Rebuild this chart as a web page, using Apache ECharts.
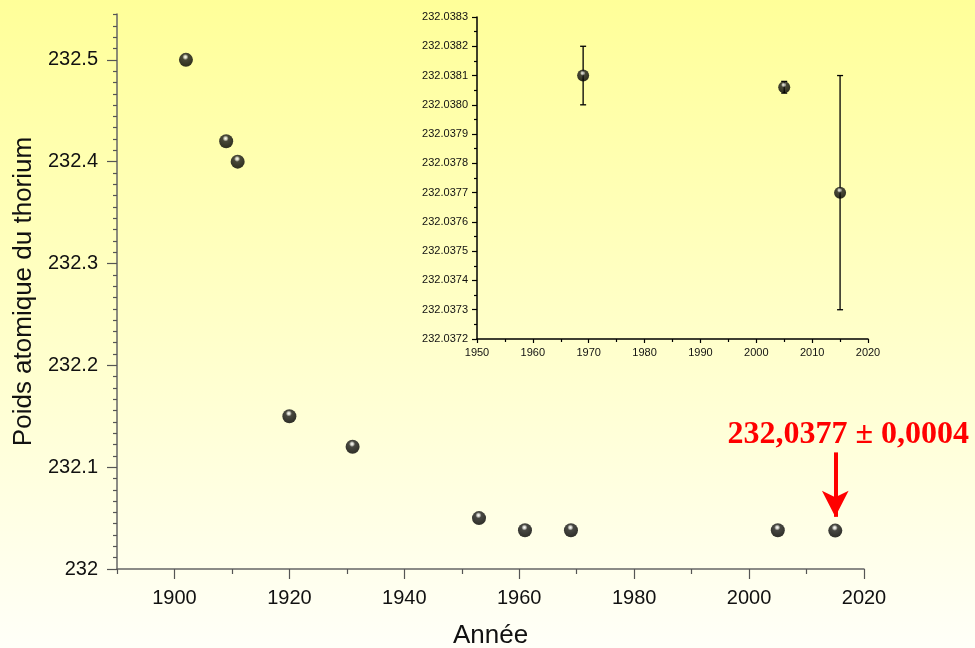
<!DOCTYPE html>
<html>
<head>
<meta charset="utf-8">
<script src="https://cdn.jsdelivr.net/npm/echarts@6/dist/echarts.min.js"></script>
<style>html,body{margin:0;padding:0;}#c{width:975px;height:648px;}</style>
</head>
<body>
<div id="c"></div>
<script>
// Main chart data
const mainYears = [1902, 1909, 1911, 1920, 1931, 1953, 1961, 1969, 2005, 2015];
const mainWeights = [232.5, 232.42, 232.40, 232.15, 232.12, 232.05, 232.038, 232.038, 232.038, 232.0377];
const mainXTicks = [1900, 1920, 1940, 1960, 1980, 2000, 2020];
const mainXMinorTicks = [1890, 1910, 1930, 1950, 1970, 1990, 2010];
const mainYTicks = [232, 232.1, 232.2, 232.3, 232.4, 232.5];
// Inset data
const insetYears = [1969, 2005, 2015];
const insetWeights = [232.0381, 232.03806, 232.0377];
const insetErrors = [0.0001, 0.00002, 0.0004];
// Annotation
const annotYear = 2015;
const annotText = '232,0377 ± 0,0004';
const arrowFrom = 232.1145;
const arrowTo = 232.0512;

const ball = (r) => ({
  type: 'radial', x: 0.46, y: 0.3, r: r,
  colorStops: [
    {offset: 0, color: '#ffffff'},
    {offset: 0.16, color: '#c8c8c8'},
    {offset: 0.36, color: '#1a1a1a'},
    {offset: 1, color: '#000000'}
  ]
});

const chart = echarts.init(document.getElementById('c'));
const mainGrid = {left: 117, right: 111, top: 14, bottom: 79, containLabel: false, outerBoundsMode: 'none'};
const option = {
  animation: false,
  backgroundColor: {
    type: 'linear', x: 0, y: 0, x2: 0, y2: 1,
    colorStops: [{offset: 0, color: '#FFFF99'}, {offset: 1, color: '#FFFFF8'}]
  },
  grid: [
    Object.assign({}, mainGrid),
    {left: 477, right: 107, top: 17, bottom: 309, containLabel: false, outerBoundsMode: 'none'},
    Object.assign({}, mainGrid)
  ],
  xAxis: [
    {
      type: 'value', gridIndex: 0, min: 1890, max: 2020,
      name: 'Année', nameLocation: 'middle', nameGap: 54,
      nameTextStyle: {fontSize: 26, color: '#111', fontFamily: 'Liberation Sans'},
      axisLine: {show: true, lineStyle: {color: '#666', width: 1.5}},
      axisTick: {show: true, customValues: mainXTicks, length: 10, lineStyle: {color: '#555', width: 1.2}},
      axisLabel: {customValues: mainXTicks, fontSize: 20, color: '#111', margin: 19, fontFamily: 'Liberation Sans',
        formatter: v => String(v)},
      splitLine: {show: false}
    },
    {
      type: 'value', gridIndex: 1, min: 1950, max: 2020, interval: 10,
      axisLine: {show: true, onZero: false, lineStyle: {color: '#000', width: 1.5}},
      axisTick: {show: true, length: 4, lineStyle: {color: '#000', width: 1.2}},
      minorTick: {show: true, splitNumber: 2, length: 3, lineStyle: {color: '#000', width: 1.2}},
      axisLabel: {fontSize: 11, color: '#111', margin: 8, fontFamily: 'Liberation Sans',
        formatter: v => String(v)},
      splitLine: {show: false}
    },
    {
      type: 'value', gridIndex: 2, min: 1890, max: 2020,
      axisLine: {show: false},
      axisTick: {show: true, customValues: mainXMinorTicks, length: 5, lineStyle: {color: '#555', width: 1.2}},
      axisLabel: {show: false},
      splitLine: {show: false}
    }
  ],
  yAxis: [
    {
      type: 'value', gridIndex: 0, min: 232, max: 232.545, interval: 0.1,
      name: 'Poids atomique du thorium', nameLocation: 'middle', nameGap: 66,
      nameTextStyle: {fontSize: 26, color: '#111', fontFamily: 'Liberation Sans'},
      axisLine: {show: true, lineStyle: {color: '#666', width: 1.5}},
      axisTick: {show: true, customValues: mainYTicks, length: 10, lineStyle: {color: '#555', width: 1.2}},
      minorTick: {show: true, splitNumber: 9, length: 4, lineStyle: {color: '#555', width: 1.2}},
      axisLabel: {customValues: mainYTicks, fontSize: 20, color: '#111', margin: 19, fontFamily: 'Liberation Sans',
        formatter: v => String(Math.round(v * 10) / 10)},
      splitLine: {show: false}
    },
    {
      type: 'value', gridIndex: 1, min: 232.0372, max: 232.0383, interval: 0.0001,
      axisLine: {show: true, onZero: false, lineStyle: {color: '#000', width: 1.5}},
      axisTick: {show: true, length: 5, lineStyle: {color: '#000', width: 1.2}},
      minorTick: {show: true, splitNumber: 2, length: 3, lineStyle: {color: '#000', width: 1.2}},
      axisLabel: {fontSize: 11, color: '#111', margin: 9, fontFamily: 'Liberation Sans',
        formatter: v => v.toFixed(4)},
      splitLine: {show: false}
    },
    {
      type: 'value', gridIndex: 2, min: 232, max: 232.545, show: false
    }
  ],
  series: [
    {
      type: 'scatter', xAxisIndex: 0, yAxisIndex: 0,
      data: mainYears.map((y, i) => [y, mainWeights[i]]),
      symbolSize: 14,
      itemStyle: {color: ball(0.6)},
      markLine: {
        silent: true, animation: false,
        symbol: ['none', 'arrow'], symbolSize: [20, 26],
        lineStyle: {color: '#ff0000', width: 4, type: 'solid'},
        label: {show: false},
        data: [[{coord: [annotYear, arrowFrom]}, {coord: [annotYear, arrowTo]}]]
      },
      markPoint: {
        silent: true, animation: false,
        symbol: 'circle', symbolSize: 0,
        itemStyle: {color: 'transparent'},
        label: {
          show: true, position: 'top', distance: 2, offset: [13, 0],
          formatter: annotText, color: '#ff0000', fontWeight: 'bold',
          fontSize: 32, fontFamily: 'Liberation Serif'
        },
        data: [{coord: [annotYear, arrowFrom]}]
      }
    },
    {
      type: 'custom', xAxisIndex: 1, yAxisIndex: 1,
      data: insetYears.map((y, i) => [y, insetWeights[i] - insetErrors[i], insetWeights[i] + insetErrors[i]]),
      renderItem: function (params, api) {
        const lo = api.coord([api.value(0), api.value(1)]);
        const hi = api.coord([api.value(0), api.value(2)]);
        const w = 3;
        const st = {stroke: '#000', lineWidth: 1.3};
        return {
          type: 'group',
          children: [
            {type: 'line', shape: {x1: lo[0], y1: lo[1], x2: hi[0], y2: hi[1]}, style: st},
            {type: 'line', shape: {x1: lo[0] - w, y1: lo[1], x2: lo[0] + w, y2: lo[1]}, style: st},
            {type: 'line', shape: {x1: hi[0] - w, y1: hi[1], x2: hi[0] + w, y2: hi[1]}, style: st}
          ]
        };
      },
      z: 2
    },
    {
      type: 'scatter', xAxisIndex: 1, yAxisIndex: 1,
      data: insetYears.map((y, i) => [y, insetWeights[i]]),
      symbolSize: 12,
      itemStyle: {color: ball(0.6)},
      z: 3
    }
  ]
};
chart.setOption(option);
</script>
</body>
</html>
